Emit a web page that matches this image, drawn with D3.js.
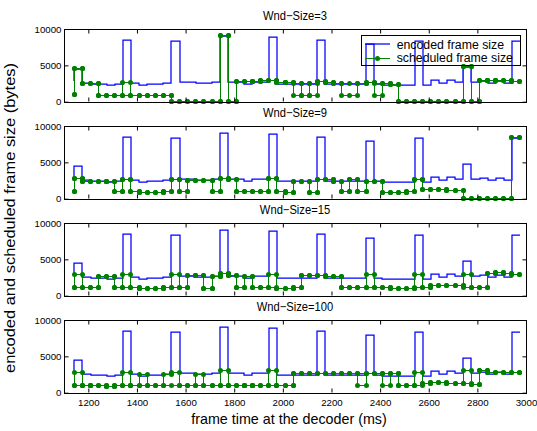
<!DOCTYPE html>
<html><head><meta charset="utf-8">
<script src="https://cdn.jsdelivr.net/npm/d3@7"></script>
<style>
body{margin:0;background:#fff}
svg{display:block}
text{font-family:"Liberation Sans",Arial,Helvetica,sans-serif;fill:#000}
</style>
</head><body>
<svg id="chart" width="537" height="431"></svg>
<script>
// frame decode times (ms)
const frameTimes = [1142,1175,1209,1242,1275,1309,1342,1375,1409,1442,1475,1509,1542,1575,1609,1642,1675,1709,1742,1775,1809,1842,1875,1909,1942,1975,2009,2042,2075,2109,2142,2175,2209,2242,2275,2309,2342,2375,2409,2442,2475,2509,2542,2575,2609,2642,2675,2709,2742,2775,2809,2842,2875,2909,2942,2975];
// first value = level at the first frame time, then one value per frame interval
const encodedSize = [2800,4500,2600,2500,2450,2350,2450,8500,2550,2350,2400,2450,2550,8400,2650,2650,2550,2600,2700,9050,2750,2700,2500,2650,2700,8950,2450,2400,2400,2450,2450,8500,2450,2450,2500,2500,2450,7950,2450,2250,2300,2350,2250,8350,2350,3000,2600,3000,2700,4750,2750,2900,2550,2850,2600,8400];

const sched3a = [1010,4600,2530,2530,830,830,830,2670,830,830,830,830,830,0,0,0,0,0,0,9170,0,2760,2760,2800,2850,2850,2700,2600,830,2500,830,2760,2600,2500,2500,2500,2500,2600,2500,2500,2400,0,0,0,0,0,0,0,0,4840,0,2950,2900,2860,2860,2760];
const sched3b = [1010,4600,2530,2530,830,830,830,830,830,830,830,830,830,0,0,0,0,0,0,9170,0,2760,2760,2800,2850,2850,2700,2600,2500,830,2500,2760,2600,2500,830,830,2500,2600,830,2500,2400,0,0,0,0,0,0,0,0,4840,0,2950,2900,2860,2860,2760];

const sched9a = [1010,2750,2430,2430,2430,2400,1010,2660,1010,920,920,920,1010,2660,1010,2520,2520,2520,1010,2840,2660,1010,1010,1010,1010,2840,1010,800,2430,2430,800,2660,2660,2430,1010,2620,1010,2430,2430,920,920,920,1010,2660,1280,1280,1280,1150,1150,0,0,0,0,0,0,8400];
const sched9b = sched9a;

const sched15a = [1090,2950,1090,1090,2680,2680,1090,2950,1090,1000,1000,1000,1090,2950,1090,2800,2820,1000,2680,3040,2820,1090,2680,1090,1090,2950,1000,1000,1090,2730,2730,2730,2700,2700,1090,1090,1090,2950,1090,1090,1000,1000,1000,2950,1090,1450,1450,1450,1450,2950,1090,1090,3000,3180,3040,2950];
const sched15b = [1090,1090,1090,1090,2680,2680,1090,1090,1090,1000,1000,1000,1090,1090,1090,2800,2820,1000,2680,3040,2820,1090,2680,1090,1090,1090,1000,1000,1090,2730,2730,2730,2700,2700,1090,1090,1090,1090,1090,1090,1000,1000,1000,1090,1090,1450,1450,1450,1450,1090,1090,1090,3000,3180,3040,2950];

const sched100a = [1050,2820,1000,960,960,900,960,2820,1000,2450,1000,1000,2500,2820,1000,1000,2550,1000,1000,3090,1050,1050,1000,1050,1050,3090,950,950,2590,2590,2590,2590,2590,2590,2590,2590,2590,2590,2590,2590,2590,1045,1045,2820,1270,1360,1360,1270,1270,3090,1140,3090,2820,2820,2820,2820];
const sched100b = [1050,1050,1000,960,960,900,960,960,1000,1000,1000,1000,1000,1000,1000,1000,1000,1000,1000,1000,1050,1050,1000,1050,1050,1050,950,950,2590,2590,2590,2590,2590,2590,2590,2590,1045,2590,2590,1000,2590,1045,1045,1045,1270,1360,1360,1270,1270,1270,1140,3090,2820,2820,2820,2820];

const panelTitles = ["Wnd\u2212Size=3","Wnd\u2212Size=9","Wnd\u2212Size=15","Wnd\u2212Size=100"];
const panelSeries = [[sched3a,sched3b],[sched9a,sched9b],[sched15a,sched15b],[sched100a,sched100b]];
const xTicks = [1200,1400,1600,1800,2000,2200,2400,2600,2800,3000];
const yTicks = [0,5000,10000];
const legendLabels = ["encoded frame size","scheduled frame size"];

const BLUE = "#0000ff", GREEN = "#008000";
const svg = d3.select("#chart");
svg.append("rect").attr("width",537).attr("height",431).attr("fill","#fff");

const x = d3.scaleLinear().domain([1100,3000]).range([64,526]);
const axH = 72.7;
const snap = v => Math.round(v - 0.5) + 0.5;
const snapInt = v => Math.round(v);

function stairPoints(v){
  const pts = [[frameTimes[0], v[0]]];
  for (let k = 0; k < frameTimes.length - 1; k++){
    pts.push([frameTimes[k], v[k+1]]);
    pts.push([frameTimes[k+1], v[k+1]]);
  }
  return pts;
}

panelTitles.forEach((title, i) => {
  const top = 29 + 97*i;
  const y = d3.scaleLinear().domain([0,10000]).range([top+axH, top]);
  const g = svg.append("g");
  const line = d3.line().x(d => snap(x(d[0]))).y(d => snap(y(d[1])));
  const blueLine = d3.line().x(d => snapInt(x(d[0]))).y(d => snapInt(y(d[1])));

  // encoded frame size
  g.append("path").attr("d", blueLine(stairPoints(encodedSize)))
    .attr("fill","none").attr("stroke",BLUE).attr("stroke-width",1.25);

  // scheduled frame size traces
  panelSeries[i].forEach(s => {
    g.append("path").attr("d", line(stairPoints(s)))
      .attr("fill","none").attr("stroke",GREEN).attr("stroke-width",1);
  });
  panelSeries[i].forEach(s => {
    const seen = new Set();
    const pts = stairPoints(s).filter(p => { const k = p[0]+"_"+p[1]; if (seen.has(k)) return false; seen.add(k); return true; });
    g.selectAll(null).data(pts).enter().append("circle")
      .attr("cx", d => snap(x(d[0]))).attr("cy", d => snap(y(d[1]))).attr("r", 2.5).attr("fill", GREEN);
  });

  // axes box + inward ticks
  const ax = svg.append("g").attr("font-size", 9.7);
  const left = ax.append("g").attr("transform","translate(64.5,0)")
    .call(d3.axisLeft(y).tickValues(yTicks).tickSize(-4).tickPadding(3).tickFormat(d3.format("d")));
  const right = ax.append("g").attr("transform","translate(526.5,0)")
    .call(d3.axisRight(y).tickValues(yTicks).tickSize(-4).tickFormat(""));
  const topA = ax.append("g").attr("transform",`translate(0,${snap(top)})`)
    .call(d3.axisTop(x).tickValues(xTicks).tickSize(-4).tickFormat(""));
  const bot = ax.append("g").attr("transform",`translate(0,${snap(top+axH)})`)
    .call(d3.axisBottom(x).tickValues(xTicks).tickSize(-4).tickPadding(6.5)
      .tickFormat(i === 3 ? d3.format("d") : ""));
  [left,right,topA,bot].forEach(a => {
    a.select(".domain").remove();
    a.selectAll("line").attr("stroke","#000");
    a.selectAll("text").attr("font-family",'"Liberation Sans",Arial,sans-serif').attr("font-size",9.7).attr("fill","#000");
  });
  ax.append("rect").attr("x",64.5).attr("y",snap(top)).attr("width",462).attr("height",Math.round(axH))
    .attr("fill","none").attr("stroke","#000").attr("stroke-width",1);

  svg.append("text").attr("transform",`translate(295,${top-9}) scale(1,1.1)`).attr("text-anchor","middle")
    .attr("font-size",11.2).text(title);

  if (i === 0){
    const lg = svg.append("g");
    lg.append("rect").attr("x",361.5).attr("y",35.5).attr("width",159).attr("height",30)
      .attr("fill","none").attr("stroke","#000").attr("stroke-width",1);
    lg.append("line").attr("x1",365).attr("x2",390).attr("y1",44).attr("y2",44).attr("stroke",BLUE).attr("stroke-width",1.25);
    lg.append("line").attr("x1",365).attr("x2",390).attr("y1",58.5).attr("y2",58.5).attr("stroke",GREEN);
    lg.append("circle").attr("cx",377.5).attr("cy",58.5).attr("r",2.5).attr("fill",GREEN);
    lg.append("text").attr("x",396.7).attr("y",48.5).attr("font-size",12.3).text(legendLabels[0]);
    lg.append("text").attr("x",396.7).attr("y",62.2).attr("font-size",12.3).text(legendLabels[1]);
  }
});

svg.append("text").attr("x",289).attr("y",424).attr("text-anchor","middle")
  .attr("font-size",14.3).text("frame time at the decoder (ms)");
svg.append("text").attr("transform","translate(15,218) rotate(-90)").attr("text-anchor","middle")
  .attr("font-size",14).attr("textLength",310).attr("lengthAdjust","spacingAndGlyphs")
  .text("encoded and scheduled frame size (bytes)");
</script>
</body></html>
